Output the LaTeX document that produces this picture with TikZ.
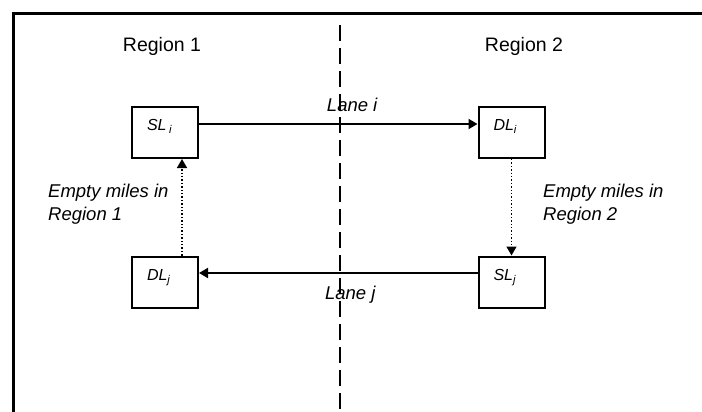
\documentclass[tikz,border=0pt]{standalone}
\usepackage{fontspec}
\setmainfont{Liberation Sans}
\usetikzlibrary{arrows.meta}

\begin{document}
\begin{tikzpicture}[x=1pt,y=1pt,>={Triangle[length=9pt,width=10pt]},
  loc/.style={draw,line width=2pt,inner xsep=15pt,inner ysep=0pt,text width=36pt,
    align=left,text height=24pt,text depth=27pt,font=\fontsize{16}{18}\selectfont\itshape},
  lane/.style={->,line width=1.8pt},
  empty/.style={->,dotted,line width=1.4pt},
  txt/.style={inner sep=0pt,font=\fontsize{18.5}{23}\selectfont\itshape},
  region/.style={anchor=base,inner sep=0pt,font=\fontsize{19.5}{23}\selectfont}]
\useasboundingbox (0,0) rectangle (702,-412);
% frame and the border between the two regions
\draw[line width=3pt] (702,-13.5) -| (13.5,-412);
\coordinate (d0) at (340,-25); \coordinate (d1) at (340,-410);
\draw[line width=1.7pt,dash pattern=on 16pt off 7pt] (d0)--(d1);
\node[region] (r1) at (162,-52) {Region 1};
\node[region] (r2) at (524,-52) {Region 2};
% start and end locations of the two lanes
\node[loc] (SLi) at (165,-132.5) {SL\,\textsubscript{i}};
\node[loc] (DLi) at (511.5,-132.5) {DL\textsubscript{i}};
\node[loc] (DLj) at (165,-282) {DL\textsubscript{j}};
\node[loc] (SLj) at (511.5,-282) {SL\textsubscript{j}};
\draw[lane] ([yshift=8.5pt]SLi.east)--node[txt,pos=0.55,above=11pt] (li) {Lane i}([yshift=8.5pt]DLi.west);
\draw[lane] ([yshift=9pt]SLj.west)--node[txt,pos=0.457,below=12pt] (lj) {Lane j}([yshift=9pt]DLj.east);
% repositioning without load
\draw[empty] (DLi)--(SLj);
\draw[empty] ([xshift=17pt]DLj.north)--([xshift=17pt]SLi.south);
\node[txt,align=left,anchor=north west] (e1) at (48,-184) {Empty miles in\\Region 1};
\node[txt,align=left,anchor=north west] (e2) at (543,-184) {Empty miles in\\Region 2};
\end{tikzpicture}
\end{document}
